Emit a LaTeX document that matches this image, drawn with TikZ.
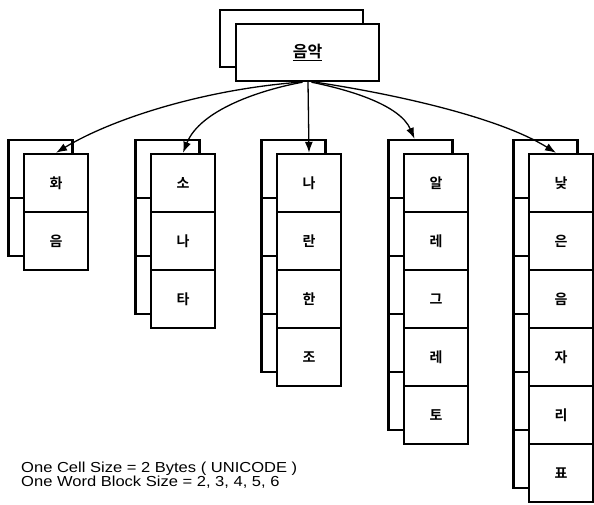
\documentclass[tikz,border=0pt]{standalone}
\usepackage{fontspec}
\newfontfamily\kr{Noto Sans CJK KR}[BoldFont={Noto Sans CJK KR Bold}]
\newfontfamily\lab[FakeStretch=1.14]{Liberation Sans}
\usetikzlibrary{arrows.meta}
\tikzset{
  cellbox/.style={draw, line width=2.4pt, fill=white, minimum width=64pt,
    minimum height=58pt, inner sep=0pt, font=\kr\bfseries\fontsize{14}{14}\selectfont},
  topbox/.style={draw, line width=2.4pt, fill=white, minimum width=143pt,
    minimum height=57pt, inner sep=0pt, font=\kr\bfseries\fontsize{16}{16}\selectfont},
  link/.style={line width=1.3pt, -{Latex[length=11pt,width=8pt]}},
  note/.style={anchor=base west, inner sep=0pt, font=\lab\fontsize{14.5}{14.5}\selectfont},
}
\begin{document}
\begin{tikzpicture}[x=1pt,y=1pt]
\useasboundingbox (0,0) rectangle (594,504);
% top block
\node[topbox] (topback) at (291.5,465.5) {};
\node[topbox] (top) at (307.5,451.5) {\underline{음악}};
% columns
\foreach \cx/\col/\lst in {56/1/{화,음}, 183/2/{소,나,타}, 309/3/{나,란,한,조},
    436/4/{알,레,그,레,토}, 561/5/{낮,은,음,자,리,표}} {
  \foreach \ch [count=\i] in \lst {
    \node[cellbox] (b\col-\i) at (\cx-15.5, 393-58*\i) {};
  }
  \foreach \ch [count=\i] in \lst {
    \node[cellbox] (c\col-\i) at (\cx, 379-58*\i) {\ch};
  }
}
% connectors
\draw[link] ([xshift=-8pt]top.south) .. controls (200,414) and (110,384) .. (c1-1.north);
\draw[link] ([xshift=-5pt]top.south) .. controls (260,414) and (200,394) .. (c2-1.north);
\draw[link] ([xshift=0.5pt]top.south) -- (c3-1.north);
\draw[link] ([xshift=4pt]top.south) .. controls (350,414) and (400,399) .. ([xshift=-6pt]b4-1.north);
\draw[link] ([xshift=8pt]top.south) .. controls (400,409) and (500,386) .. ([xshift=-5pt]c5-1.north);
% notes
\node[note] (note1) at (21,32) {One Cell Size = 2 Bytes ( UNICODE )};
\node[note] (note2) at (21,18) {One Word Block Size = 2, 3, 4, 5, 6};
\end{tikzpicture}
\end{document}
